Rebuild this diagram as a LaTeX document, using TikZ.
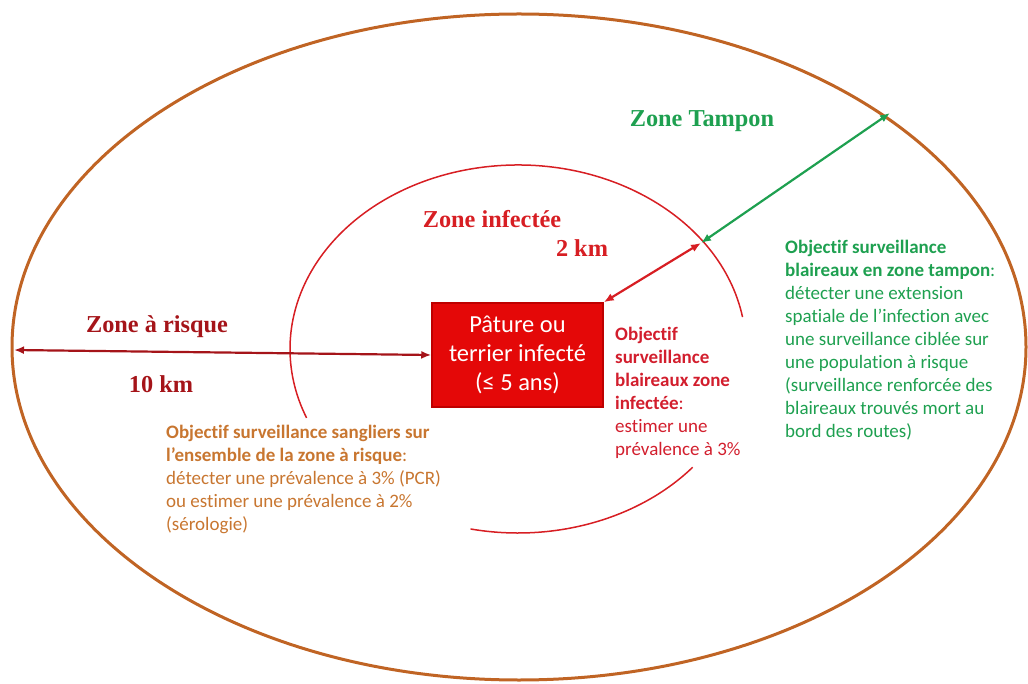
\documentclass[tikz,border=0pt]{standalone}
\usepackage{fontspec}
\setmainfont{Liberation Serif}
\newfontfamily\calfont[Ligatures=NoCommon]{Carlito}
\usetikzlibrary{arrows.meta}
\definecolor{riskbrown}{RGB}{192,100,36}
\definecolor{risktext}{RGB}{200,118,48}
\definecolor{riskred}{RGB}{165,20,25}
\definecolor{infred}{RGB}{215,30,35}
\definecolor{goalred}{RGB}{210,30,45}
\definecolor{tampgreen}{RGB}{30,160,80}
\definecolor{boxred}{RGB}{228,8,8}
\definecolor{boxedge}{RGB}{190,0,0}
\tikzset{
  zonelabel/.style={font=\bfseries\fontsize{24.3}{28}\selectfont, inner sep=0pt, anchor=base},
  goal/.style={font=\calfont\fontsize{19}{23}\selectfont, align=left, anchor=north west, inner sep=0pt},
  span/.style={line width=2.2pt, {Latex[length=10pt,width=8pt]}-{Latex[length=10pt,width=8pt]}},
}
\begin{document}
\begin{tikzpicture}[x=1pt,y=1pt]
\useasboundingbox (0,0) rectangle (1028,-684);
% the three zones
\draw[riskbrown, line width=3pt] (519,-347) ellipse [x radius=507, y radius=333];
\draw[infred, line width=1.5pt] (518,-349) ++(10:228 and 184)
      arc[start angle=10, end angle=202, x radius=228, y radius=184];
\draw[infred, line width=1.5pt] (518,-349) ++(258:228 and 184)
      arc[start angle=258, end angle=320, x radius=228, y radius=184];
% infected site
\node[draw=boxedge, fill=boxred, line width=1.5pt, minimum width=171, minimum height=104,
      text=white, font=\calfont\fontsize{24.5}{29}\selectfont, align=center]
      (box) at (517.5,-355) {Pâture ou\\terrier infecté\\(≤ 5 ans)};
\coordinate (riskend) at (14,-350);
\coordinate (infend) at (701,-243);
\coordinate (tampend) at (890,-113);
\draw[span, riskred] (riskend) -- (box.west);
\draw[span, infred] (box.north east) -- (infend);
\draw[span, tampgreen] (infend) -- (tampend);
% zone names
\node[zonelabel, riskred] (risklbl) at (157,-333) {Zone à risque};
\node[zonelabel, riskred] (riskkm) at (161,-392) {10 km};
\node[zonelabel, infred] (inflbl) at (492,-228) {Zone infectée};
\node[zonelabel, infred] (infkm) at (582,-257) {2 km};
\node[zonelabel, tampgreen] (tamplbl) at (702,-127) {Zone Tampon};
% objectives
\node[goal, risktext] (riskgoal) at (166,-425) {\textbf{Objectif surveillance sangliers sur}\\
  \textbf{l’ensemble de la zone à risque}:\\
  détecter une prévalence à 3\% (PCR)\\
  ou estimer une prévalence à 2\%\\
  (sérologie)};
\node[goal, goalred] (infgoal) at (615,-327) {\textbf{Objectif}\\
  \textbf{surveillance}\\
  \textbf{blaireaux zone}\\
  \textbf{infectée}:\\
  estimer une\\
  prévalence à 3\%};
\node[goal, tampgreen] (tampgoal) at (785,-240) {\textbf{Objectif surveillance}\\
  \textbf{blaireaux en zone tampon}:\\
  détecter une extension\\
  spatiale de l’infection avec\\
  une surveillance ciblée sur\\
  une population à risque\\
  (surveillance renforcée des\\
  blaireaux trouvés mort au\\
  bord des routes)};
\end{tikzpicture}
\end{document}
